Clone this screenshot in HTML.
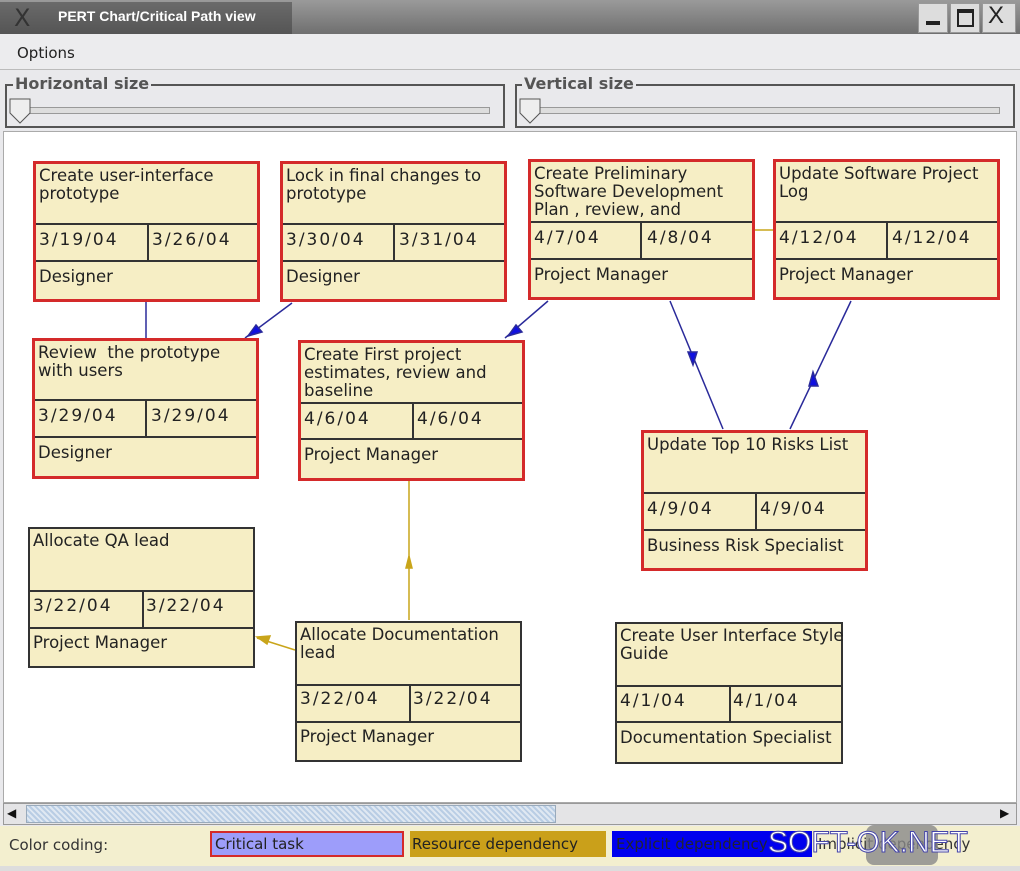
<!DOCTYPE html>
<html><head><meta charset="utf-8"><style>
*{box-sizing:border-box;margin:0;padding:0}
body{width:1020px;height:871px;background:#e9e9ec;position:relative;overflow:hidden;font-family:"DejaVu Sans","Liberation Sans",sans-serif}
.a{position:absolute}
.box{position:absolute;background:#f6eec5;border:3px solid #d42a2a;font-size:16.5px;color:#222;line-height:18px;white-space:nowrap}
.box.k{border:2px solid #333}
.box .t{position:absolute;left:3px;top:3px;right:2px}
.box .h{position:absolute;left:0;right:0;border-top:2px solid #333}
.box .v{position:absolute;border-left:2px solid #333}
.box .d{position:absolute}
.box .n{font-size:17px;letter-spacing:2px}
</style></head><body>
<!-- title bar -->
<div class="a" style="left:0;top:0;width:1020px;height:34px;background:linear-gradient(#9a9a9a,#6f6f6f)"></div>
<div class="a" style="left:0;top:2px;width:292px;height:32px;background:linear-gradient(#6a6a6a,#555)"></div>
<div class="a" style="left:14px;top:4px;color:#333;font-size:24px">X</div>
<div class="a" style="left:58px;top:8px;color:#fff;font-weight:bold;font-size:14px;font-family:'Liberation Sans',sans-serif">PERT Chart/Critical Path view</div>
<div class="a" style="left:918px;top:3px;width:30px;height:30px;background:#ddd;border:1px solid #999"></div>
<div class="a" style="left:950px;top:3px;width:30px;height:30px;background:#ddd;border:1px solid #999"></div>
<div class="a" style="left:982px;top:3px;width:34px;height:30px;background:#ddd;border:1px solid #999"></div>
<div class="a" style="left:926px;top:21px;width:14px;height:4px;background:#222"></div>
<div class="a" style="left:957px;top:9px;width:17px;height:18px;border:2px solid #222;border-top-width:4px"></div>
<div class="a" style="left:988px;top:2px;font-size:24px;color:#222;font-family:'Liberation Sans',sans-serif">X</div>
<!-- menu -->
<div class="a" style="left:0;top:34px;width:1020px;height:36px;background:#ececee;border-bottom:1px solid #bbb"></div>
<div class="a" style="left:17px;top:44px;font-size:15px;color:#222">Options</div>
<!-- sliders -->
<div class="a" style="left:5px;top:84px;width:500px;height:44px;border:2px solid #555;border-top:none"></div>
<div class="a" style="left:5px;top:84px;width:500px;border-top:2px solid #555"></div>
<div class="a" style="left:13px;top:74px;background:#e9e9ec;font-size:16px;color:#555;font-weight:bold;padding:0 2px">Horizontal size</div>
<div class="a" style="left:18px;top:107px;width:472px;height:7px;border:1px solid #999;background:#ddd"></div>
<svg class="a" style="left:9px;top:98px" width="24" height="28"><polygon points="1,1 21,1 21,15 11,25 1,15" fill="#eee" stroke="#555"/></svg>
<div class="a" style="left:515px;top:84px;width:500px;height:44px;border:2px solid #555;border-top:none"></div>
<div class="a" style="left:515px;top:84px;width:500px;border-top:2px solid #555"></div>
<div class="a" style="left:522px;top:74px;background:#e9e9ec;font-size:16px;color:#555;font-weight:bold;padding:0 2px">Vertical size</div>
<div class="a" style="left:528px;top:107px;width:472px;height:7px;border:1px solid #999;background:#ddd"></div>
<svg class="a" style="left:519px;top:98px" width="24" height="28"><polygon points="1,1 21,1 21,15 11,25 1,15" fill="#eee" stroke="#555"/></svg>
<!-- canvas -->
<div class="a" style="left:3px;top:131px;width:1014px;height:672px;background:#fff;border:1px solid #aaa"></div>
<svg class="a" style="left:0;top:0" width="1020" height="871">
<g stroke="#2a2a9a" stroke-width="1.5" fill="#1010e0">
<line x1="146" y1="301" x2="146" y2="338"/>
<line x1="292" y1="303" x2="245" y2="338"/><polygon points="248,336 256,325 262,332"/>
<line x1="548" y1="301" x2="505" y2="338"/><polygon points="508,336 516,325 522,332"/>
<line x1="670" y1="301" x2="723" y2="429"/><polygon points="693,365 688,352 697,352"/>
<line x1="851" y1="301" x2="790" y2="429"/><polygon points="813,372 809,386 818,386"/>
</g>
<g stroke="#c9a51a" stroke-width="1.5" fill="#c9a51a">
<line x1="409" y1="481" x2="409" y2="620"/><polygon points="409,556 406,568 412,568"/>
<line x1="295" y1="650" x2="257" y2="638"/><polygon points="257,637 270,636 267,644"/>
<line x1="754" y1="230" x2="773" y2="230"/>
</g>
</svg>

<div class="box" style="left:33px;top:161px;width:227px;height:141px"><div class="t">Create user-interface<br>prototype</div><div class="h" style="top:59px"></div><div class="h" style="top:96px"></div><div class="v" style="left:111px;top:59px;height:37px"></div><div class="d n" style="left:3px;top:67px">3/19/04</div><div class="d n" style="left:116px;top:67px">3/26/04</div><div class="d" style="left:3px;top:104px">Designer</div></div>

<div class="box" style="left:280px;top:161px;width:227px;height:141px"><div class="t">Lock in final changes to<br>prototype</div><div class="h" style="top:59px"></div><div class="h" style="top:96px"></div><div class="v" style="left:110px;top:59px;height:37px"></div><div class="d n" style="left:3px;top:67px">3/30/04</div><div class="d n" style="left:116px;top:67px">3/31/04</div><div class="d" style="left:3px;top:104px">Designer</div></div>

<div class="box" style="left:528px;top:159px;width:227px;height:141px"><div class="t">Create Preliminary<br>Software Development<br>Plan , review, and</div><div class="h" style="top:59px"></div><div class="h" style="top:96px"></div><div class="v" style="left:109px;top:59px;height:37px"></div><div class="d n" style="left:3px;top:67px">4/7/04</div><div class="d n" style="left:116px;top:67px">4/8/04</div><div class="d" style="left:3px;top:104px">Project Manager</div></div>

<div class="box" style="left:773px;top:159px;width:227px;height:141px"><div class="t">Update Software Project<br>Log</div><div class="h" style="top:59px"></div><div class="h" style="top:96px"></div><div class="v" style="left:110px;top:59px;height:37px"></div><div class="d n" style="left:3px;top:67px">4/12/04</div><div class="d n" style="left:116px;top:67px">4/12/04</div><div class="d" style="left:3px;top:104px">Project Manager</div></div>

<div class="box" style="left:32px;top:338px;width:227px;height:141px"><div class="t">Review &nbsp;the prototype<br>with users</div><div class="h" style="top:58px"></div><div class="h" style="top:95px"></div><div class="v" style="left:110px;top:58px;height:37px"></div><div class="d n" style="left:3px;top:66px">3/29/04</div><div class="d n" style="left:116px;top:66px">3/29/04</div><div class="d" style="left:3px;top:103px">Designer</div></div>

<div class="box" style="left:298px;top:340px;width:227px;height:141px"><div class="t">Create First project<br>estimates, review and<br>baseline</div><div class="h" style="top:59px"></div><div class="h" style="top:95px"></div><div class="v" style="left:111px;top:59px;height:36px"></div><div class="d n" style="left:3px;top:67px">4/6/04</div><div class="d n" style="left:116px;top:67px">4/6/04</div><div class="d" style="left:3px;top:103px">Project Manager</div></div>

<div class="box" style="left:641px;top:430px;width:227px;height:141px"><div class="t">Update Top 10 Risks List</div><div class="h" style="top:59px"></div><div class="h" style="top:96px"></div><div class="v" style="left:111px;top:59px;height:37px"></div><div class="d n" style="left:3px;top:67px">4/9/04</div><div class="d n" style="left:116px;top:67px">4/9/04</div><div class="d" style="left:3px;top:104px">Business Risk Specialist</div></div>

<div class="box k" style="left:28px;top:527px;width:227px;height:141px"><div class="t">Allocate QA lead</div><div class="h" style="top:61px"></div><div class="h" style="top:98px"></div><div class="v" style="left:112px;top:61px;height:37px"></div><div class="d n" style="left:3px;top:68px">3/22/04</div><div class="d n" style="left:116px;top:68px">3/22/04</div><div class="d" style="left:3px;top:105px">Project Manager</div></div>

<div class="box k" style="left:295px;top:621px;width:227px;height:141px"><div class="t">Allocate Documentation<br>lead</div><div class="h" style="top:61px"></div><div class="h" style="top:98px"></div><div class="v" style="left:112px;top:61px;height:37px"></div><div class="d n" style="left:3px;top:67px">3/22/04</div><div class="d n" style="left:116px;top:67px">3/22/04</div><div class="d" style="left:3px;top:105px">Project Manager</div></div>

<div class="box k" style="left:615px;top:622px;width:228px;height:142px"><div class="t">Create User Interface Style<br>Guide</div><div class="h" style="top:61px"></div><div class="h" style="top:97px"></div><div class="v" style="left:112px;top:61px;height:36px"></div><div class="d n" style="left:3px;top:68px">4/1/04</div><div class="d n" style="left:116px;top:68px">4/1/04</div><div class="d" style="left:3px;top:105px">Documentation Specialist</div></div>

<!-- scrollbar -->
<div class="a" style="left:3px;top:803px;width:1014px;height:22px;background:#e4e4e6;border:1px solid #999"></div>
<div class="a" style="left:26px;top:805px;width:530px;height:18px;background:repeating-linear-gradient(45deg,#b9cde4 0 2px,#dfe8f2 2px 4px);border:1px solid #9ab"></div>
<div class="a" style="left:7px;top:806px;font-size:12px;color:#111">◀</div>
<div class="a" style="left:1000px;top:806px;font-size:12px;color:#111">▶</div>
<!-- legend -->
<div class="a" style="left:0;top:826px;width:1020px;height:40px;background:#f3efcf"></div>
<div class="a" style="left:0;top:866px;width:1020px;height:5px;background:#ddd"></div>
<div class="a" style="left:9px;top:836px;font-size:15px;color:#333">Color coding:</div>
<div class="a" style="left:210px;top:831px;width:194px;height:26px;background:#9d9dfa;border:2px solid #d42a2a;font-size:15px;color:#222;padding:2px 0 0 3px">Critical task</div>
<div class="a" style="left:410px;top:831px;width:196px;height:26px;background:#caa01a;font-size:15px;color:#222;padding:4px 0 0 2px">Resource dependency</div>
<div class="a" style="left:612px;top:831px;width:200px;height:26px;background:#0000ee;font-size:15px;color:#223;padding:4px 0 0 4px">Explicit dependency</div>
<div class="a" style="left:812px;top:831px;width:200px;height:26px;background:#f3efcf;font-size:15px;color:#333;padding:4px 0 0 6px">Implicit dependency</div>
<div class="a" style="left:866px;top:825px;width:72px;height:40px;background:#888;border-radius:8px;opacity:.8"></div>
<div class="a" style="left:768px;top:826px;font-size:30px;color:#fff;font-family:'Liberation Sans',sans-serif;-webkit-text-stroke:1px #44a">SOFT-OK.NET</div>
</body></html>
